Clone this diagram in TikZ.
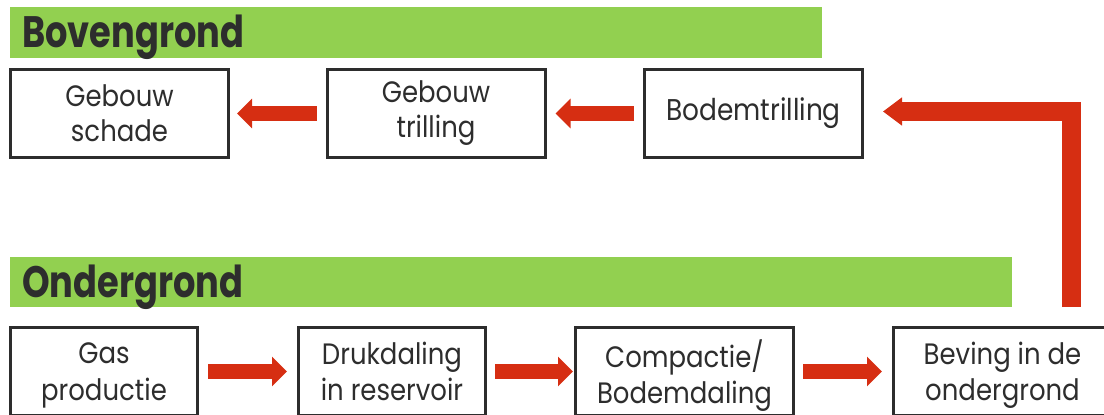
\documentclass[tikz,border=0pt]{standalone}
\usepackage{fontspec}
\setmainfont{Poppins}[FakeStretch=0.88]
\newfontfamily\titlefont{Poppins}[FakeStretch=0.8]
\usetikzlibrary{arrows.meta}
\definecolor{barGreen}{RGB}{146,208,80}
\definecolor{arrowRed}{RGB}{214,46,18}
\definecolor{inkGrey}{RGB}{45,45,45}
\tikzset{
  stepbox/.style={draw=inkGrey, line width=3pt, fill=white, text=inkGrey,
    align=center, inner sep=0pt, font=\fontsize{29.5}{35}\selectfont},
  widebox/.style={stepbox, minimum width=218pt, minimum height=88pt},
  narrowbox/.style={stepbox, minimum width=187pt, minimum height=88pt},
  lowtext/.style={font=\fontsize{29.5}{36.5}\selectfont, text depth=-2pt},
  groundbar/.style={fill=barGreen, draw=none, inner sep=0pt, anchor=north west},
  bartitle/.style={anchor=base west, inner sep=0pt, text=inkGrey,
    font=\titlefont\bfseries\fontsize{44}{50}\selectfont},
  smallarrow/.style={draw=arrowRed, line width=15pt,
    -{Triangle[length=15pt,width=29pt]}},
  bigarrow/.style={draw=arrowRed, line width=19pt, line join=miter,
    -{Triangle[length=19pt,width=27pt]}}
}
\begin{document}
\begin{tikzpicture}[x=1pt,y=-1pt]
\useasboundingbox (0,0) rectangle (1104,415);
\clip (0,0) rectangle (1104,415);
% green bars
\node[groundbar, minimum width=812pt, minimum height=51pt] (bar1) at (10,7) {};
\node[bartitle] (t1) at (22,47) {Bovengrond};
\node[groundbar, minimum width=1002pt, minimum height=50pt] (bar2) at (10,257) {};
\node[bartitle] (t2) at (22,297) {Ondergrond};
% top row
\node[widebox] (b1) at (119.5,113.5) {Gebouw\\schade};
\node[widebox] (b2) at (436,113.5) {Gebouw\\trilling};
\node[widebox, font=\fontsize{30}{36}\selectfont] (b3) at (753.5,113.5) {Bodemtrilling};
% bottom row
\node[narrowbox, lowtext] (u1) at (104,371.5) {Gas\\productie};
\node[narrowbox, lowtext] (u2) at (392,371.5) {Drukdaling\\in reservoir};
\node[widebox, lowtext] (u3) at (684.5,371.5) {Compactie/\\Bodemdaling};
\node[widebox, lowtext] (u4) at (1002.5,371.5) {Beving in de\\ondergrond};
% arrows
\draw[smallarrow, shorten <=9pt, shorten >=7pt] (b2.west) -- (b1.east);
\draw[smallarrow, shorten <=9pt, shorten >=9pt] (b3.west) -- (b2.east);
\draw[smallarrow, shorten <=9pt, shorten >=10pt] (u1.east) -- (u2.west);
\draw[smallarrow, shorten <=8pt, shorten >=1pt] (u2.east) -- (u3.west);
\draw[smallarrow, shorten <=8pt, shorten >=10pt] (u3.east) -- (u4.west);
\draw[bigarrow] ([xshift=69pt,yshift=19pt]u4.north) |- ([xshift=19pt,yshift=2pt]b3.east);
\end{tikzpicture}
\end{document}
